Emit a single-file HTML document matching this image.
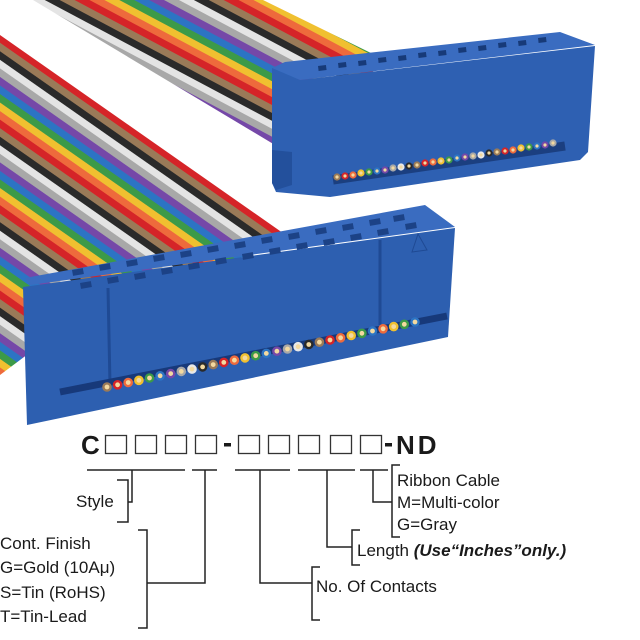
<!DOCTYPE html>
<html><head><meta charset="utf-8"><style>
html,body{margin:0;padding:0;background:#fff;}
svg{display:block;}
text{font-family:"Liberation Sans",Arial,sans-serif;fill:#1a1a1a;}
</style></head><body>
<svg width="640" height="640" viewBox="0 0 640 640" xmlns="http://www.w3.org/2000/svg">
<defs>
<g id="stripes">
<rect x="-100" y="0" width="800" height="7" fill="#2c74c4"/>
<rect x="-100" y="7" width="800" height="7" fill="#3c9a48"/>
<rect x="-100" y="14" width="800" height="7" fill="#f0c030"/>
<rect x="-100" y="21" width="800" height="7" fill="#ee6a3c"/>
<rect x="-100" y="28" width="800" height="7" fill="#d52428"/>
<rect x="-100" y="35" width="800" height="7" fill="#9a7a58"/>
<rect x="-100" y="42" width="800" height="7" fill="#2a2a2a"/>
<rect x="-100" y="49" width="800" height="7" fill="#e4e4e4"/>
<rect x="-100" y="56" width="800" height="7" fill="#a8a8a8"/>
<rect x="-100" y="63" width="800" height="7" fill="#7548a8"/>
</g>
<pattern id="ribF" patternUnits="userSpaceOnUse" width="800" height="70" patternTransform="rotate(35)">
<use href="#stripes"/>
</pattern>
<pattern id="ribB" patternUnits="userSpaceOnUse" width="800" height="70" patternTransform="rotate(28)">
<use href="#stripes"/>
</pattern>
</defs>

<!-- back ribbon -->
<polygon points="33,0 263,0 375,55 372,80 275,145" fill="url(#ribB)"/>
<!-- back connector -->
<polygon points="272,68 285,62 560,32 595,45 300,80" fill="#3a6cc0"/>
<polygon points="272,68 300,80 595,46 588,152 580,160 330,197 276,192 272,183" fill="#2e60b2"/>
<polygon points="272,150 292,152 292,185 276,190 272,183" fill="#23509c"/>
<g fill="#173a78">
<rect x="318" y="66" width="8" height="5" transform="rotate(-7 318 66)"/>
<rect x="338" y="63" width="8" height="5" transform="rotate(-7 338 63)"/>
<rect x="358" y="61" width="8" height="5" transform="rotate(-7 358 61)"/>
<rect x="378" y="58" width="8" height="5" transform="rotate(-7 378 58)"/>
<rect x="398" y="56" width="8" height="5" transform="rotate(-7 398 56)"/>
<rect x="418" y="53" width="8" height="5" transform="rotate(-7 418 53)"/>
<rect x="438" y="51" width="8" height="5" transform="rotate(-7 438 51)"/>
<rect x="458" y="48" width="8" height="5" transform="rotate(-7 458 48)"/>
<rect x="478" y="46" width="8" height="5" transform="rotate(-7 478 46)"/>
<rect x="498" y="43" width="8" height="5" transform="rotate(-7 498 43)"/>
<rect x="518" y="41" width="8" height="5" transform="rotate(-7 518 41)"/>
<rect x="538" y="38" width="8" height="5" transform="rotate(-7 538 38)"/>
</g>
<line x1="333" y1="180" x2="565" y2="146" stroke="#1b3f80" stroke-width="9"/>
<g stroke-width="2">
<circle cx="337" cy="177" r="2.6" fill="#f3d9a0" stroke="#9a7a58"/><circle cx="345" cy="176" r="2.6" fill="#f3d9a0" stroke="#d52428"/><circle cx="353" cy="175" r="2.6" fill="#f3d9a0" stroke="#ee6a3c"/><circle cx="361" cy="173" r="2.6" fill="#f3d9a0" stroke="#f0c030"/><circle cx="369" cy="172" r="2.6" fill="#f3d9a0" stroke="#3c9a48"/><circle cx="377" cy="171" r="2.6" fill="#f3d9a0" stroke="#2c74c4"/><circle cx="385" cy="170" r="2.6" fill="#f3d9a0" stroke="#7548a8"/><circle cx="393" cy="168" r="2.6" fill="#f3d9a0" stroke="#a8a8a8"/><circle cx="401" cy="167" r="2.6" fill="#f3d9a0" stroke="#e8e8e8"/><circle cx="409" cy="166" r="2.6" fill="#f3d9a0" stroke="#2a2a2a"/><circle cx="417" cy="165" r="2.6" fill="#f3d9a0" stroke="#9a7a58"/><circle cx="425" cy="163" r="2.6" fill="#f3d9a0" stroke="#d52428"/><circle cx="433" cy="162" r="2.6" fill="#f3d9a0" stroke="#ee6a3c"/><circle cx="441" cy="161" r="2.6" fill="#f3d9a0" stroke="#f0c030"/><circle cx="449" cy="160" r="2.6" fill="#f3d9a0" stroke="#3c9a48"/><circle cx="457" cy="158" r="2.6" fill="#f3d9a0" stroke="#2c74c4"/><circle cx="465" cy="157" r="2.6" fill="#f3d9a0" stroke="#7548a8"/><circle cx="473" cy="156" r="2.6" fill="#f3d9a0" stroke="#a8a8a8"/><circle cx="481" cy="155" r="2.6" fill="#f3d9a0" stroke="#e8e8e8"/><circle cx="489" cy="153" r="2.6" fill="#f3d9a0" stroke="#2a2a2a"/><circle cx="497" cy="152" r="2.6" fill="#f3d9a0" stroke="#9a7a58"/><circle cx="505" cy="151" r="2.6" fill="#f3d9a0" stroke="#d52428"/><circle cx="513" cy="150" r="2.6" fill="#f3d9a0" stroke="#ee6a3c"/><circle cx="521" cy="148" r="2.6" fill="#f3d9a0" stroke="#f0c030"/><circle cx="529" cy="147" r="2.6" fill="#f3d9a0" stroke="#3c9a48"/><circle cx="537" cy="146" r="2.6" fill="#f3d9a0" stroke="#2c74c4"/><circle cx="545" cy="145" r="2.6" fill="#f3d9a0" stroke="#7548a8"/><circle cx="553" cy="143" r="2.6" fill="#f3d9a0" stroke="#a8a8a8"/>
</g>

<!-- front ribbon -->
<polygon points="0,35 290,238 60,330 0,375" fill="url(#ribF)"/>
<!-- front connector -->
<polygon points="25,278 425,205 455,227 30,285" fill="#3a6cc0"/>
<polygon points="23,287 455,228 448,337 27,425" fill="#2d5fb0"/>
<g fill="#1c4286">
<rect x="72" y="270" width="11" height="6" transform="rotate(-10 72 270)"/><rect x="99" y="265" width="11" height="6" transform="rotate(-10 99 265)"/><rect x="126" y="261" width="11" height="6" transform="rotate(-10 126 261)"/><rect x="153" y="256" width="11" height="6" transform="rotate(-10 153 256)"/><rect x="180" y="252" width="11" height="6" transform="rotate(-10 180 252)"/><rect x="207" y="247" width="11" height="6" transform="rotate(-10 207 247)"/><rect x="234" y="243" width="11" height="6" transform="rotate(-10 234 243)"/><rect x="261" y="238" width="11" height="6" transform="rotate(-10 261 238)"/><rect x="288" y="234" width="11" height="6" transform="rotate(-10 288 234)"/><rect x="315" y="229" width="11" height="6" transform="rotate(-10 315 229)"/><rect x="342" y="225" width="11" height="6" transform="rotate(-10 342 225)"/><rect x="369" y="220" width="11" height="6" transform="rotate(-10 369 220)"/><rect x="393" y="216" width="11" height="6" transform="rotate(-10 393 216)"/>
<rect x="80" y="283" width="11" height="6" transform="rotate(-10 80 283)"/><rect x="107" y="278" width="11" height="6" transform="rotate(-10 107 278)"/><rect x="134" y="274" width="11" height="6" transform="rotate(-10 134 274)"/><rect x="161" y="269" width="11" height="6" transform="rotate(-10 161 269)"/><rect x="188" y="264" width="11" height="6" transform="rotate(-10 188 264)"/><rect x="215" y="259" width="11" height="6" transform="rotate(-10 215 259)"/><rect x="242" y="254" width="11" height="6" transform="rotate(-10 242 254)"/><rect x="269" y="249" width="11" height="6" transform="rotate(-10 269 249)"/><rect x="296" y="244" width="11" height="6" transform="rotate(-10 296 244)"/><rect x="323" y="240" width="11" height="6" transform="rotate(-10 323 240)"/><rect x="350" y="235" width="11" height="6" transform="rotate(-10 350 235)"/><rect x="377" y="230" width="11" height="6" transform="rotate(-10 377 230)"/><rect x="405" y="224" width="11" height="6" transform="rotate(-10 405 224)"/>
</g>
<line x1="108" y1="288" x2="110" y2="385" stroke="#1f4a94" stroke-width="3"/>
<line x1="380" y1="240" x2="380" y2="325" stroke="#1f4a94" stroke-width="3"/>
<polygon points="412,252 418,234 427,250" fill="none" stroke="#1f4a94" stroke-width="1"/>
<line x1="60" y1="392" x2="447" y2="316" stroke="#17397a" stroke-width="7"/>
<g stroke-width="2.4">
<circle cx="107" cy="387" r="3.6" fill="#f3d9a0" stroke="#9a7a58"/><circle cx="117.6" cy="384.8" r="3.6" fill="#f3d9a0" stroke="#d52428"/><circle cx="128.2" cy="382.5" r="3.6" fill="#f3d9a0" stroke="#ee6a3c"/><circle cx="138.9" cy="380.3" r="3.6" fill="#f3d9a0" stroke="#f0c030"/><circle cx="149.5" cy="378" r="3.6" fill="#f3d9a0" stroke="#3c9a48"/><circle cx="160.1" cy="375.8" r="3.6" fill="#f3d9a0" stroke="#2c74c4"/><circle cx="170.7" cy="373.6" r="3.6" fill="#f3d9a0" stroke="#7548a8"/><circle cx="181.3" cy="371.4" r="3.6" fill="#f3d9a0" stroke="#a8a8a8"/><circle cx="192" cy="369.1" r="3.6" fill="#f3d9a0" stroke="#e8e8e8"/><circle cx="202.6" cy="366.9" r="3.6" fill="#f3d9a0" stroke="#2a2a2a"/><circle cx="213.2" cy="364.6" r="3.6" fill="#f3d9a0" stroke="#9a7a58"/><circle cx="223.8" cy="362.4" r="3.6" fill="#f3d9a0" stroke="#d52428"/><circle cx="234.4" cy="360.2" r="3.6" fill="#f3d9a0" stroke="#ee6a3c"/><circle cx="245" cy="357.9" r="3.6" fill="#f3d9a0" stroke="#f0c030"/><circle cx="255.7" cy="355.7" r="3.6" fill="#f3d9a0" stroke="#3c9a48"/><circle cx="266.3" cy="353.4" r="3.6" fill="#f3d9a0" stroke="#2c74c4"/><circle cx="276.9" cy="351.2" r="3.6" fill="#f3d9a0" stroke="#7548a8"/><circle cx="287.5" cy="349" r="3.6" fill="#f3d9a0" stroke="#a8a8a8"/><circle cx="298.1" cy="346.7" r="3.6" fill="#f3d9a0" stroke="#e8e8e8"/><circle cx="308.8" cy="344.5" r="3.6" fill="#f3d9a0" stroke="#2a2a2a"/><circle cx="319.4" cy="342.2" r="3.6" fill="#f3d9a0" stroke="#9a7a58"/><circle cx="330" cy="340" r="3.6" fill="#f3d9a0" stroke="#d52428"/><circle cx="340.6" cy="337.8" r="3.6" fill="#f3d9a0" stroke="#ee6a3c"/><circle cx="351.2" cy="335.5" r="3.6" fill="#f3d9a0" stroke="#f0c030"/><circle cx="361.9" cy="333.3" r="3.6" fill="#f3d9a0" stroke="#3c9a48"/><circle cx="372.5" cy="331" r="3.6" fill="#f3d9a0" stroke="#2c74c4"/><circle cx="383.1" cy="328.8" r="3.6" fill="#f3d9a0" stroke="#ee6a3c"/><circle cx="393.7" cy="326.6" r="3.6" fill="#f3d9a0" stroke="#f0c030"/><circle cx="404.3" cy="324.3" r="3.6" fill="#f3d9a0" stroke="#3c9a48"/><circle cx="415" cy="322" r="3.6" fill="#f3d9a0" stroke="#2c74c4"/>
</g>

<!-- part number -->
<text x="81" y="454" font-size="26" font-weight="bold">C</text>
<g fill="none" stroke="#333" stroke-width="1.3">
<rect x="105.5" y="435.5" width="21" height="18"/><rect x="135.5" y="435.5" width="21" height="18"/><rect x="165.5" y="435.5" width="21" height="18"/><rect x="195.5" y="435.5" width="21" height="18"/>
<rect x="238.5" y="435.5" width="21" height="18"/><rect x="268.5" y="435.5" width="21" height="18"/><rect x="298.5" y="435.5" width="21" height="18"/><rect x="330.5" y="435.5" width="21" height="18"/><rect x="360.5" y="435.5" width="21" height="18"/>
</g>
<rect x="224" y="443" width="7" height="3.5" fill="#1a1a1a"/>
<rect x="385" y="443" width="7" height="3.5" fill="#1a1a1a"/>
<text x="396" y="454" font-size="26" font-weight="bold" letter-spacing="3">ND</text>

<g fill="none" stroke="#222" stroke-width="1.5">
<path d="M87 470H185M192 470H217M235 470H290M298 470H355M360 470H388"/>
<path d="M132 470V502H128M117 480H128V522H117"/>
<path d="M205 470V583H147M138 530H147V628H138"/>
<path d="M260 470V583H312M320 567H312V620H320"/>
<path d="M327 470V547H352M360 530H352V565H360"/>
<path d="M373 470V502H392M400 465H392V537H400"/>
</g>
<g font-size="17">
<text x="76" y="507">Style</text>
<text x="0" y="549">Cont. Finish</text>
<text x="0" y="573">G=Gold (10Aμ)</text>
<text x="0" y="598">S=Tin (RoHS)</text>
<text x="0" y="622">T=Tin-Lead</text>
<text x="316" y="592">No. Of Contacts</text>
<text x="357" y="556">Length <tspan font-weight="bold" font-style="italic">(Use“Inches”only.)</tspan></text>
<text x="397" y="486">Ribbon Cable</text>
<text x="397" y="508">M=Multi-color</text>
<text x="397" y="530">G=Gray</text>
</g>
</svg>
</body></html>
